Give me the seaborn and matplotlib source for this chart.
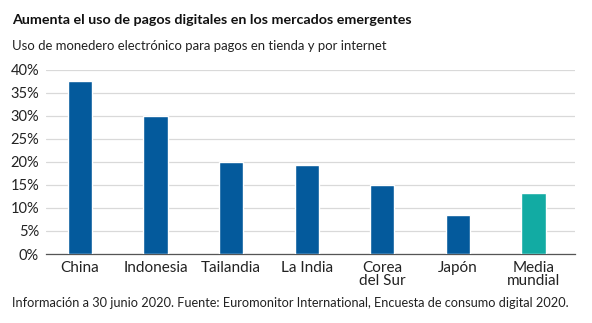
import matplotlib
matplotlib.use("Agg")
import matplotlib.pyplot as plt
import seaborn as sns
import pandas as pd

categories = ["China", "Indonesia", "Tailandia", "La India", "Corea\ndel Sur", "Japón", "Media\nmundial"]
values = [37.7, 30.0, 20.0, 19.4, 14.9, 8.4, 13.3]
yticks = [0, 5, 10, 15, 20, 25, 30, 35, 40]
ytick_labels = ["0%", "5%", "10%", "15%", "20%", "25%", "30%", "35%", "40%"]

sns.set_theme(style="white")
plt.rcParams['font.family'] = ['Lato', 'DejaVu Sans']

blue = "#045a9c"
teal = "#12aba3"
palette = [blue] * 6 + [teal]

df = pd.DataFrame({"cat": categories, "val": values})

fig = plt.figure(figsize=(5.92, 3.23), dpi=100)
ax = fig.add_axes([46/592, 1-254/323, (575-46)/592, (254-70)/323])
sns.barplot(data=df, x="cat", y="val", hue="cat", palette=palette, legend=False,
            width=0.32, ax=ax, saturation=1, zorder=3)
ax.set_xlim(-0.45, 6.55)
ax.set_ylim(0, 40)
ax.set_yticks(yticks)
ax.set_yticklabels(ytick_labels)
ax.yaxis.grid(True, color="#d9d9d9", linewidth=0.9, zorder=0)
ax.set_axisbelow(True)
for s in ["top", "right", "left"]:
    ax.spines[s].set_visible(False)
ax.spines["bottom"].set_color("#555555")
ax.spines["bottom"].set_linewidth(0.9)
ax.set_xlabel("")
ax.set_ylabel("")
ax.tick_params(axis="y", length=0, pad=5, labelsize=10.5, labelcolor="#222222")
ax.tick_params(axis="x", length=0, pad=5, labelsize=11, labelcolor="#222222")
for t in ax.get_xticklabels():
    t.set_linespacing(0.95)
for t in ax.get_yticklabels():
    t.set_horizontalalignment("right")

fig.text(12/592, 1-20/323, "Aumenta el uso de pagos digitales en los mercados emergentes",
         fontsize=10.3, fontweight="bold", color="#111111", va="center", ha="left")
fig.text(12/592, 1-46/323, "Uso de monedero electrónico para pagos en tienda y por internet",
         fontsize=9.45, color="#222222", va="center", ha="left")
fig.text(12/592, 1-303/323, "Información a 30 junio 2020. Fuente: Euromonitor International, Encuesta de consumo digital 2020.",
         fontsize=9.15, color="#222222", va="center", ha="left")

fig.savefig("out.png", dpi=100)
